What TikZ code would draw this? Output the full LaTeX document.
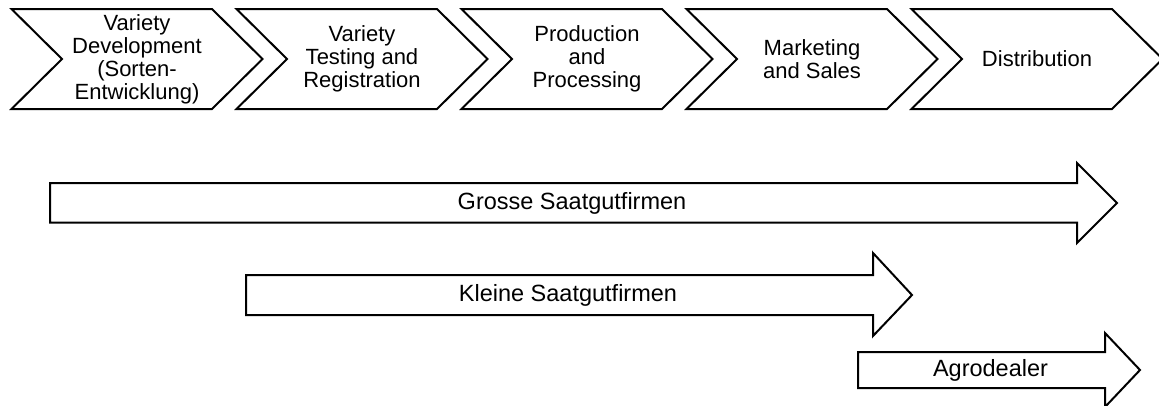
\documentclass[tikz,border=0pt]{standalone}
\usepackage{fontspec}
\setmainfont{Liberation Sans}
\begin{document}
\begin{tikzpicture}[x=1pt,y=-1pt,
  outline/.style={draw=black, line width=2pt, line join=miter, fill=white},
  steplabel/.style={align=center, font=\fontsize{22}{23}\selectfont, inner sep=0pt},
  barlabel/.style={font=\fontsize{23.5}{26}\selectfont, inner sep=0pt}]
\useasboundingbox (0,0) rectangle (1159,405);

% value-chain chevrons
\foreach \i/\txt in {0/{Variety\\Development\\(Sorten-\\Entwicklung)},
                     1/{Variety\\Testing and\\Registration},
                     2/{Production\\and\\Processing},
                     3/{Marketing\\and Sales},
                     4/{Distribution}}{
  \pgfmathsetmacro{\L}{11.5+225*\i}
  \draw[outline] (\L,9) -- (\L+200.5,9) -- (\L+251,59) -- (\L+200.5,109)
                 -- (\L,109) -- (\L+50.5,59) -- cycle;
  \node[steplabel] (stage\i) at (\L+125.5,59) {\txt};
}

% actor bars: shaft from x0 to x1 (y top/bottom), head from h-top to h-bottom, tip at xt
\draw[outline] (50,183) -- (1077,183) -- (1077,163) -- (1117,203)
               -- (1077,243) -- (1077,222.5) -- (50,222.5) -- cycle;
\node[barlabel] (grosse) at (572,203) {Grosse Saatgutfirmen};

\draw[outline] (246,275) -- (873,275) -- (873,253) -- (912,295)
               -- (873,336) -- (873,315) -- (246,315) -- cycle;
\node[barlabel] (kleine) at (568,295) {Kleine Saatgutfirmen};

\draw[outline] (858,352) -- (1105,352) -- (1105,333) -- (1140,370)
               -- (1105,407) -- (1105,388) -- (858,388) -- cycle;
\node[barlabel] (agro) at (990.5,370) {Agrodealer};
\end{tikzpicture}
\end{document}
